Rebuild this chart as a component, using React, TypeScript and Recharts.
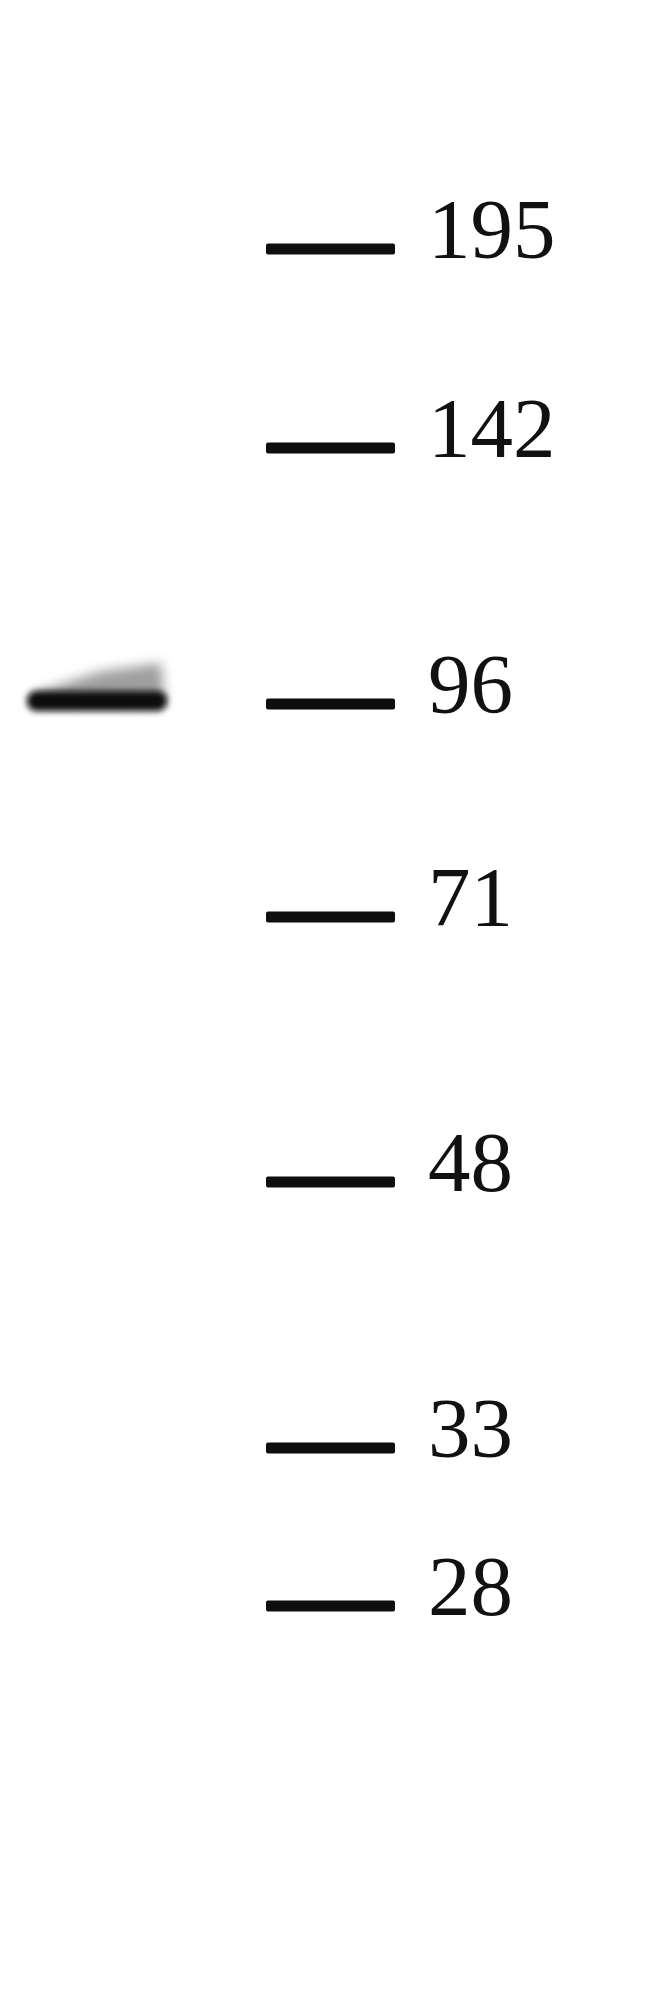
import React from "react";
import { ScatterChart, Scatter, XAxis, YAxis } from "recharts";

// Lanes of the blot (horizontal centre of each lane, in image units)
const lanes = ["Sample", "Marker"];
const laneCenters = [97, 330];

// Molecular weight marker (kDa) and migration distance (image units from top)
const markerLabels = ["195", "142", "96", "71", "48", "33", "28"];
const markerMigration = [249, 448, 704, 917, 1182, 1448, 1606];

// Detected band in the sample lane
const bandMigration = [701];

const markerData = markerLabels.map((label, i) => ({
  lane: laneCenters[1],
  migration: markerMigration[i],
  label,
}));

const bandData = bandMigration.map((m) => ({
  lane: laneCenters[0],
  migration: m,
  label: lanes[0],
}));

const MarkerShape = (props: any) => {
  const { cx, cy, payload } = props;
  if (cx == null || cy == null) return null;
  return (
    <g>
      <rect x={cx - 64} y={cy - 5.5} width={129} height={11} rx={2} fill="#0e0e0e" />
      <text
        x={cx + 98}
        y={cy + 9}
        fontFamily="'Liberation Serif', 'Times New Roman', serif"
        fontSize={85}
        fill="#111"
      >
        {payload.label}
      </text>
    </g>
  );
};

const BandShape = (props: any) => {
  const { cx, cy } = props;
  if (cx == null || cy == null) return null;
  return (
    <g>
      <defs>
        <filter id="smearBlur" x="-30%" y="-100%" width="160%" height="300%">
          <feGaussianBlur stdDeviation="6" />
        </filter>
        <filter id="coreBlur" x="-20%" y="-100%" width="140%" height="300%">
          <feGaussianBlur stdDeviation="3" />
        </filter>
      </defs>
      <polygon
        points={`${cx - 62},${cy - 8} ${cx - 20},${cy - 22} ${cx + 5},${cy - 30} ${cx + 64},${cy - 38} ${cx + 68},${cy + 2} ${cx - 62},${cy + 4}`}
        fill="#777"
        opacity={0.7}
        filter="url(#smearBlur)"
      />
      <rect
        x={cx - 70}
        y={cy - 10}
        width={140}
        height={20}
        rx={9}
        fill="#080808"
        filter="url(#coreBlur)"
      />
    </g>
  );
};

export default function App() {
  return (
    <div style={{ position: "absolute", left: 0, top: 0, background: "#fff" }}>
      <ScatterChart width={650} height={2010} margin={{ top: 0, right: 0, bottom: 0, left: 0 }}>
        <XAxis type="number" dataKey="lane" domain={[0, 650]} hide />
        <YAxis type="number" dataKey="migration" domain={[0, 2010]} reversed hide />
        <Scatter data={bandData} shape={BandShape} isAnimationActive={false} />
        <Scatter data={markerData} shape={MarkerShape} isAnimationActive={false} />
      </ScatterChart>
    </div>
  );
}
